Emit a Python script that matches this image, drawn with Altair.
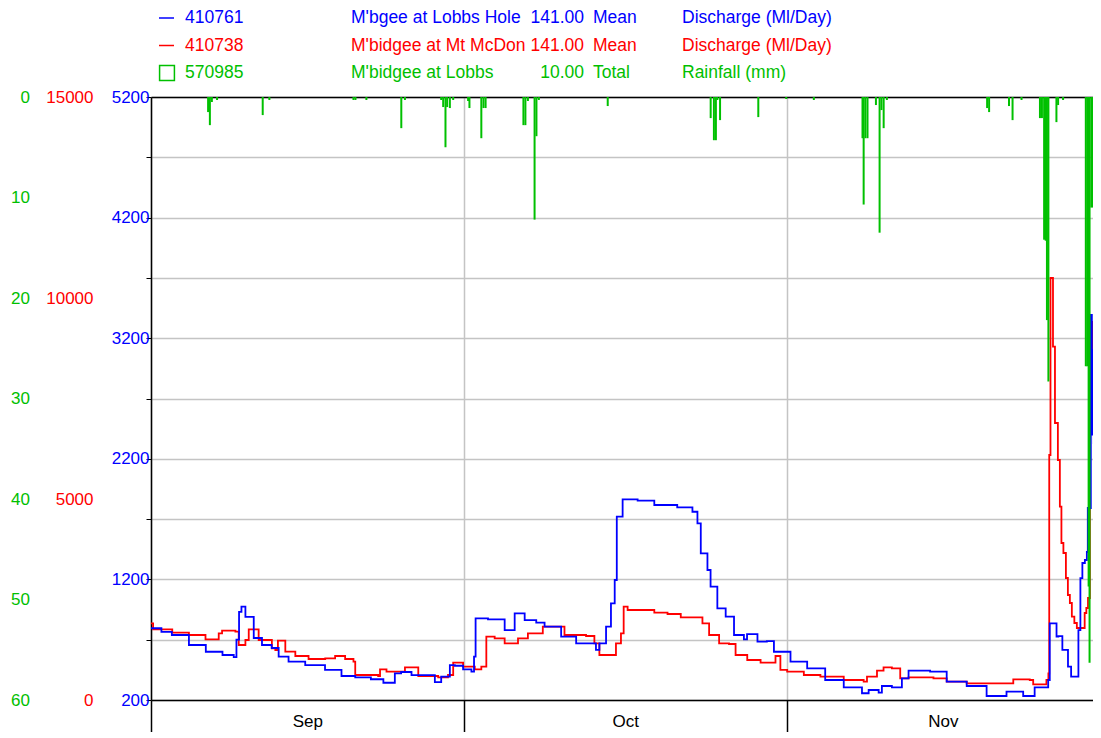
import altair as alt
import pandas as pd

FONT = "Liberation Sans"
BLUE = "#0000FF"
RED = "#FF0000"
GREEN = "#00C000"
GRID = "#C4C4C4"

# ---- time axis (days since 1 Sep) ----
X_END = 90.4
month_names = ["Sep", "Oct", "Nov"]
month_start = [0, 30, 61]
month_mid = [15, 45.5, 76]

# ---- 410761 M'bgee at Lobbs Hole, mean discharge (Ml/Day) ----
blue_day = [0.0, 1.0, 2.0, 3.64, 5.26, 6.86, 7.94, 8.2, 8.45, 8.68, 9.06, 9.86, 10.65, 11.58, 12.25,
            13.2, 14.8, 16.7, 18.28, 19.6, 21.1, 22.3, 23.4, 24.0, 25.0, 25.9, 27.24, 27.85,
            28.68, 29.16, 29.95, 30.75, 31.0, 31.15, 32.34, 33.94, 34.9, 35.86, 36.97, 37.77,
            39.36, 40.8, 41.9, 42.7, 43.03, 43.67, 44.14, 44.5, 44.7, 45.26, 46.7, 48.3, 50.5,
            51.96, 52.44, 52.76, 53.4, 53.7, 54.35, 55.15, 55.95, 56.9, 57.2, 58.2, 59.1, 59.78,
            61.37, 62.97, 64.7, 66.48, 68.23, 68.87, 69.83, 70.14, 71.1, 72.06, 72.7, 73.8,
            74.77, 76.36, 78.28, 80.19, 82.1, 83.7, 84.8, 85.6, 86.1, 86.25, 86.57, 86.9, 87.08,
            87.46, 88.0, 88.3, 88.8, 89.0, 89.19, 89.38, 89.62, 89.81, 89.9, 90.19, 90.29,
            90.38, 90.48, 90.57, 90.67]
blue_q = [795, 765, 739, 656, 600, 573, 556, 700, 930, 974, 890, 714, 656, 631, 559,
          518, 490, 449, 399, 388, 372, 343, 421, 432, 407, 407, 349, 393,
          490, 484, 454, 435, 560, 877, 869, 780, 919, 863, 841, 808,
          725, 670, 670, 615, 670, 808, 1002, 1195, 1720, 1864, 1853, 1817, 1798,
          1761, 1665, 1416, 1278, 1140, 960, 891, 739, 703, 747, 684, 689, 600,
          518, 463, 366, 305, 256, 283, 261, 316, 305, 380, 443, 443,
          435, 352, 316, 233, 269, 233, 305, 305, 366, 836, 836, 725, 730,
          615, 476, 393, 393, 780, 1211, 1336, 1361, 1427, 1792, 3394, 2400,
          3100, 2331, 2961, 2771]

# ---- 410738 M'bidgee at Mt McDon, mean discharge (Ml/Day) ----
red_day = [0.0, 0.2, 2.04, 3.64, 5.23, 6.5, 6.82, 8.1, 8.42, 9.06, 9.38, 10.33, 11.6, 11.93, 12.18,
           12.89, 13.85, 15.12, 16.72, 17.67, 18.63, 19.43, 19.6, 21.8, 21.98, 22.6, 24.05,
           24.37, 25.48, 25.65, 27.56, 28.5, 29.0, 29.95, 31.07, 31.7, 32.18, 32.98, 33.94,
           35.05, 35.22, 36.17, 37.6, 39.68, 41.75, 42.55, 43.03, 43.83, 44.62, 45.1, 45.36,
           45.74, 48.3, 49.57, 50.84, 52.44, 52.92, 53.56, 54.52, 55.47, 56.1, 57.22, 58.5,
           59.78, 59.93, 60.4, 61.05, 62.65, 64.24, 66.48, 68.39, 68.71, 69.67, 70.3, 71.1,
           71.9, 72.7, 75.09, 76.36, 78.28, 82.42, 82.75, 84.33, 84.66, 85.62, 85.93, 86.12,
           86.2, 86.32, 86.56, 86.75, 87.03, 87.22, 87.37, 87.56, 87.8, 87.99, 88.18, 88.37,
           88.61, 88.85, 89.6, 89.76, 89.92, 90.1, 90.38, 90.62]
red_q = [1908, 1758, 1675, 1617, 1509, 1659, 1724, 1700, 1368, 1492, 1758, 1492, 1286, 1244, 1476,
         1202, 1095, 1020, 1036, 1095, 1020, 953, 622, 597, 763, 704, 704,
         813, 813, 597, 564, 622, 928, 829, 763, 829, 1575, 1534, 1410,
         1410, 1534, 1659, 1824, 1617, 1592, 1410, 1119, 1119, 1410, 1659, 2321,
         2239, 2172, 2139, 2057, 2057, 1908, 1617, 1410, 1393, 1119, 995, 928,
         928, 1095, 750, 704, 622, 580, 498, 455, 580, 729, 813, 788,
         540, 564, 540, 455, 415, 415, 514, 498, 390, 390, 498, 664,
         6094, 10497, 8788, 6890, 5970, 4809, 3905, 3657, 3035, 2612, 2413, 2072,
         1915, 1791, 2164, 2289, 2537, 9408, 7794, 10400]

# ---- 570985 M'bidgee at Lobbs, total rainfall (mm) ----
rain_day = [5.48, 5.65, 5.84, 6.34, 10.72, 11.36, 19.43, 19.62, 20.67, 24.02, 24.37, 27.85,
            28.04, 28.26, 28.42, 28.68, 29.0, 30.43, 30.56, 31.7, 31.91, 32.11, 35.74, 35.93,
            36.17, 36.81, 36.99, 37.22, 43.83, 53.71, 54.02, 54.21, 54.35, 54.61, 58.28, 60.96,
            63.61, 68.28, 68.39, 68.56, 68.76, 69.57, 69.92, 70.1, 70.31, 70.62, 80.24, 80.43,
            82.34, 82.68, 83.54, 85.31, 85.5, 85.71, 85.86, 85.98, 86.12, 86.89, 87.05, 87.53,
            89.71, 89.86, 89.98, 90.07, 90.24, 90.38, 90.57, 90.67]
rain_mm = [1.5, 2.8, 0.5, 0.3, 1.8, 0.3, 0.3, 0.3, 0.3, 3.1, 0.3, 0.3,
           1.0, 5.0, 1.0, 1.1, 0.3, 0.4, 1.1, 4.1, 1.1, 1.1, 2.8, 2.8,
           0.4, 12.2, 3.9, 0.3, 0.9, 2.1, 4.3, 4.3, 0.3, 2.3, 2.0, 0.2,
           0.3, 4.1, 10.7, 4.1, 4.1, 0.8, 13.5, 1.3, 3.1, 0.3, 1.1, 1.5,
           0.9, 2.3, 0.3, 2.1, 2.1, 14.2, 14.3, 22.2, 28.3, 2.5, 0.8, 0.3,
           26.8, 26.8, 48.7, 56.3, 11.0, 11.0, 18.5, 18.5]

# ---- axis tick values ----
blue_ticks = list(range(200, 5201, 500))
red_ticks = [0, 5000, 10000, 15000]
green_ticks = [0, 10, 20, 30, 40, 50, 60]

# ---- header legend table ----
legend_row = [0, 1, 2]
legend_codes = ["410761", "410738", "570985"]
legend_names = ["M'bgee at Lobbs Hole", "M'bidgee at Mt McDon", "M'bidgee at Lobbs"]
legend_mult = ["141.00", "141.00", "10.00"]
legend_kind = ["Mean", "Mean", "Total"]
legend_units = ["Discharge (Ml/Day)", "Discharge (Ml/Day)", "Rainfall (mm)"]
legend_colors = [BLUE, RED, GREEN]

blue_df = pd.DataFrame({"day": blue_day, "q": blue_q})
red_df = pd.DataFrame({"day": red_day, "q": red_q})
rain_df = pd.DataFrame({"day": rain_day, "mm": rain_mm})
leg_df = pd.DataFrame({"row": legend_row, "code": legend_codes, "name": legend_names,
                       "mult": legend_mult, "kind": legend_kind, "unit": legend_units,
                       "color": legend_colors})

xs = alt.Scale(domain=[0, X_END], nice=False, zero=False, padding=0)
LBL = dict(labelFont=FONT, labelFontSize=17)

month_expr = " : ".join(
    [f"datum.value < {month_start[i + 1]} ? '{month_names[i]}'" for i in range(len(month_names) - 1)]
) + f" : '{month_names[-1]}'"

red_line = alt.Chart(red_df).mark_line(interpolate="step-after", color=RED, strokeWidth=1.8).encode(
    x=alt.X("day:Q", scale=xs, axis=alt.Axis(
        orient="bottom", values=month_start, labels=False, ticks=True, tickSize=32,
        tickColor="black", tickWidth=1.5, grid=True, gridColor=GRID, gridWidth=1.5,
        domain=True, domainColor="black", domainWidth=1.5, title=None)),
    y=alt.Y("q:Q", scale=alt.Scale(domain=[0, 15000], nice=False, zero=False), axis=alt.Axis(
        orient="left", offset=58, values=red_ticks, format="d", ticks=False, tickSize=0,
        domain=False, grid=False, labelColor=RED, labelPadding=0, labelOverlap=False,
        title=None, **LBL)),
)

blue_line = alt.Chart(blue_df).mark_line(interpolate="step-after", color=BLUE, strokeWidth=1.8).encode(
    x=alt.X("day:Q", scale=xs, axis=alt.Axis(
        orient="bottom", values=month_mid, labelExpr=month_expr, ticks=False, tickSize=0,
        domain=False, grid=False, labelColor="black", labelPadding=13, labelFlush=False,
        labelOverlap=False, title=None, **LBL)),
    y=alt.Y("q:Q", scale=alt.Scale(domain=[200, 5200], nice=False, zero=False), axis=alt.Axis(
        orient="left", values=blue_ticks, format="d",
        labelExpr="(datum.value - 200) % 1000 == 0 ? datum.label : ''",
        tickSize=5, tickColor="black", tickWidth=1, grid=True, gridColor=GRID, gridWidth=1.5,
        domain=True, domainColor="black", domainWidth=1.5, labelColor=BLUE, labelPadding=-3,
        labelOverlap=False, title=None, **LBL)),
)

rain_bars = alt.Chart(rain_df).mark_bar(size=2, color=GREEN).encode(
    x=alt.X("day:Q", scale=xs, axis=alt.Axis(
        orient="top", labels=False, ticks=False, tickSize=0, grid=False, domain=True,
        domainColor="black", domainWidth=1.5, title=None)),
    y=alt.Y("mm:Q", scale=alt.Scale(domain=[0, 60], reverse=True, nice=False, padding=0), axis=alt.Axis(
        orient="left", offset=121.5, values=green_ticks, ticks=False, tickSize=0, domain=False,
        grid=False, labelColor=GREEN, labelPadding=0, labelOverlap=False, title=None, **LBL)),
)

row_y = alt.Y("row:Q", scale=alt.Scale(domain=[0, 2], range=[-79, -24]), axis=None)
col = alt.Color("color:N", scale=None)


def legend_text(field, xpos, align):
    return alt.Chart(leg_df).mark_text(align=align, baseline="middle", font=FONT, fontSize=17.5).encode(
        x=alt.value(xpos), y=row_y, color=col, text=f"{field}:N")


leg_lines = alt.Chart(leg_df).transform_filter("datum.row < 2").mark_rule(strokeWidth=1.5).encode(
    x=alt.value(8), x2=alt.value(23), y=row_y, color=col)
leg_square = alt.Chart(leg_df).transform_filter("datum.row == 2").mark_point(
    shape="square", filled=False, size=220, strokeWidth=1.5, opacity=1).encode(
    x=alt.value(16), y=row_y, color=col)

chart = alt.layer(
    red_line, blue_line, rain_bars,
    leg_lines, leg_square,
    legend_text("code", 34, "left"),
    legend_text("name", 200, "left"),
    legend_text("mult", 433, "right"),
    legend_text("kind", 442, "left"),
    legend_text("unit", 531, "left"),
).resolve_scale(y="independent").resolve_axis(x="independent", y="independent").properties(
    width=942, height=603,
    autosize=alt.AutoSizeParams(type="none"),
    padding={"left": 143, "top": 89, "right": 0, "bottom": 32},
).configure_view(strokeWidth=0)

chart.save("out.html", embed_options={"renderer": "svg", "actions": False})
